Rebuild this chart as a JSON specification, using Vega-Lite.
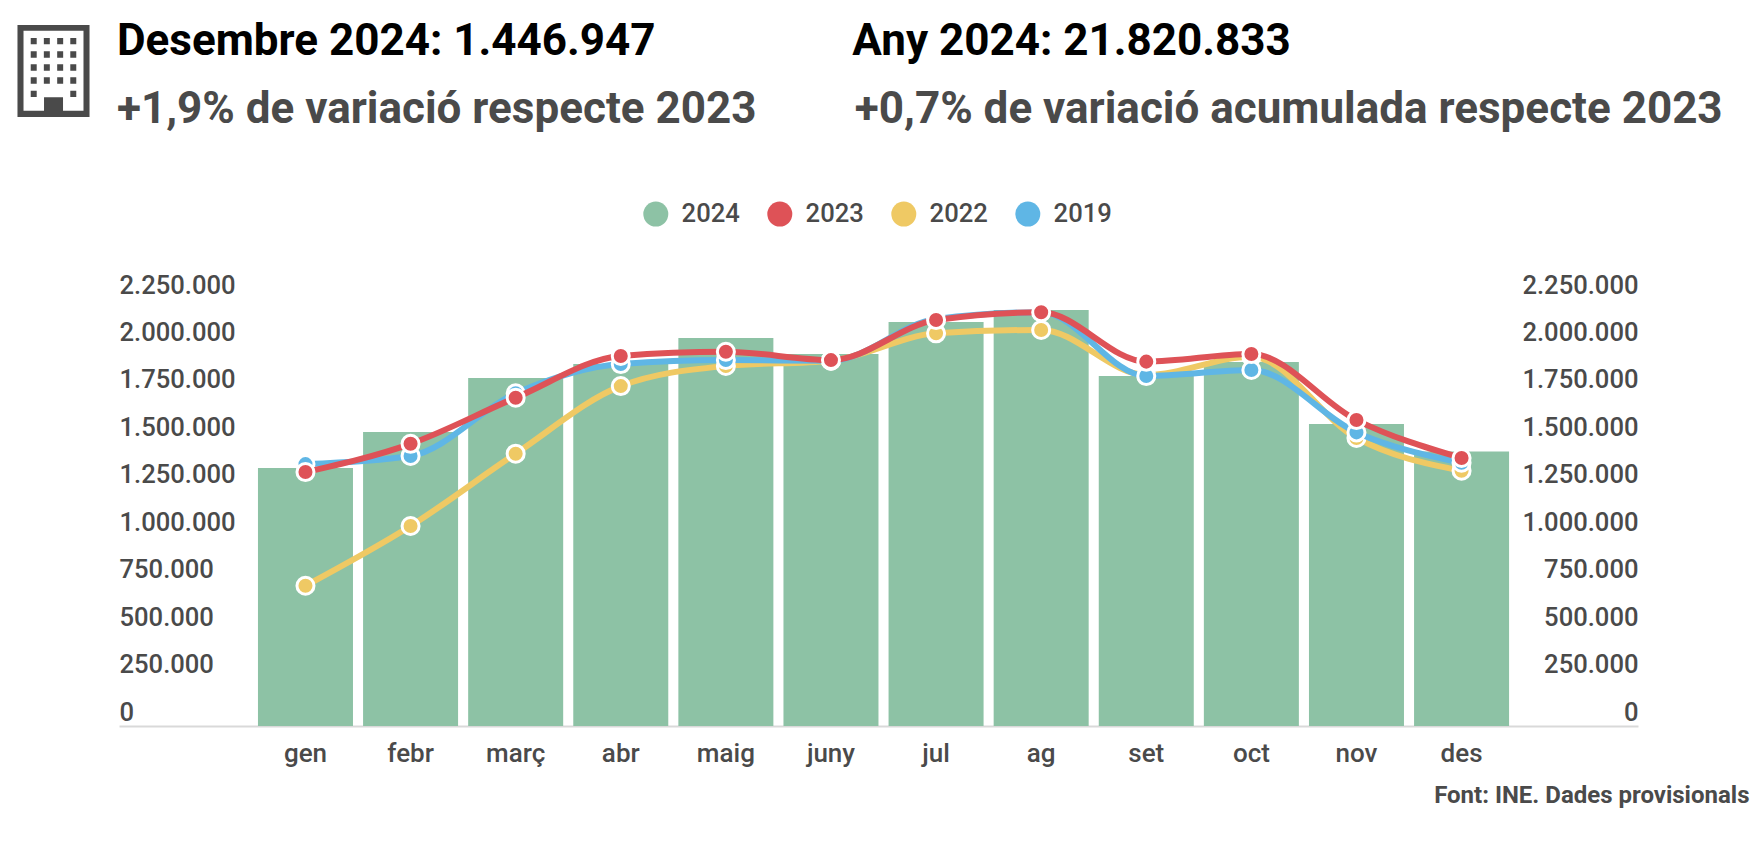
{"$schema":"https://vega.github.io/schema/vega-lite/v6.json","width":1519,"height":427,"autosize":{"type":"none"},"padding":{"left":119,"top":299,"right":115,"bottom":136},"background":"#ffffff","config":{"view":{"stroke":null},"font":"Roboto"},
"title":{"text":"Desembre 2024: 1.446.947\u00a0\u00a0\u00a0\u00a0\u00a0\u00a0\u00a0\u00a0\u00a0\u00a0\u00a0\u00a0\u00a0\u00a0\u00a0\u00a0\u00a0\u00a0Any 2024: 21.820.833","subtitle":"+1,9% de variació respecte 2023\u00a0\u00a0\u00a0\u00a0\u00a0\u00a0\u00a0\u00a0\u00a0+0,7% de variació acumulada respecte 2023","anchor":"start","frame":"group","offset":-107,"subtitlePadding":24,"font":"Roboto","fontSize":44,"fontWeight":700,"color":"#000000","subtitleFont":"Roboto","subtitleFontSize":44,"subtitleFontWeight":700,"subtitleColor":"#4a4a4a","dx":-2},
"data":{"values":[
{"mes":"gen","any":"2024","valor":1359000},{"mes":"febr","any":"2024","valor":1549000},{"mes":"març","any":"2024","valor":1834000},{"mes":"abr","any":"2024","valor":1907000},{"mes":"maig","any":"2024","valor":2044000},{"mes":"juny","any":"2024","valor":1960000},{"mes":"jul","any":"2024","valor":2129000},{"mes":"ag","any":"2024","valor":2192000},{"mes":"set","any":"2024","valor":1844000},{"mes":"oct","any":"2024","valor":1918000},{"mes":"nov","any":"2024","valor":1591000},{"mes":"des","any":"2024","valor":1446947},
{"mes":"gen","any":"2023","valor":1338000},{"mes":"febr","any":"2023","valor":1487000},{"mes":"març","any":"2023","valor":1730000},{"mes":"abr","any":"2023","valor":1950000},{"mes":"maig","any":"2023","valor":1972000},{"mes":"juny","any":"2023","valor":1928000},{"mes":"jul","any":"2023","valor":2139000},{"mes":"ag","any":"2023","valor":2180000},{"mes":"set","any":"2023","valor":1920000},{"mes":"oct","any":"2023","valor":1960000},{"mes":"nov","any":"2023","valor":1612000},{"mes":"des","any":"2023","valor":1412000},
{"mes":"gen","any":"2022","valor":739000},{"mes":"febr","any":"2022","valor":1054000},{"mes":"març","any":"2022","valor":1435000},{"mes":"abr","any":"2022","valor":1791000},{"mes":"maig","any":"2022","valor":1897000},{"mes":"juny","any":"2022","valor":1925000},{"mes":"jul","any":"2022","valor":2069000},{"mes":"ag","any":"2022","valor":2087000},{"mes":"set","any":"2022","valor":1849000},{"mes":"oct","any":"2022","valor":1946000},{"mes":"nov","any":"2022","valor":1518000},{"mes":"des","any":"2022","valor":1345000},
{"mes":"gen","any":"2019","valor":1380000},{"mes":"febr","any":"2019","valor":1423000},{"mes":"març","any":"2019","valor":1753000},{"mes":"abr","any":"2019","valor":1907000},{"mes":"maig","any":"2019","valor":1928000},{"mes":"juny","any":"2019","valor":1925000},{"mes":"jul","any":"2019","valor":2145000},{"mes":"ag","any":"2019","valor":2180000},{"mes":"set","any":"2019","valor":1844000},{"mes":"oct","any":"2019","valor":1876000},{"mes":"nov","any":"2019","valor":1547000},{"mes":"des","any":"2019","valor":1387000}
]},
"encoding":{
"x":{"field":"mes","type":"nominal","scale":{"domain":[" ","gen","febr","març","abr","maig","juny","jul","ag","set","oct","nov","des","  "],"paddingInner":0.096,"paddingOuter":0.2745,"align":0.587},"axis":{"values":["gen","febr","març","abr","maig","juny","jul","ag","set","oct","nov","des"],"title":"Font: INE. Dades provisionals","titleFont":"Roboto","titleFontSize":24,"titleFontWeight":700,"titleColor":"#4a4a4a","titleAlign":"right","titleAnchor":"end","titleX":1630,"titleY":57,"labelFont":"Roboto","labelFontSize":26,"labelFontWeight":500,"labelColor":"#4a4a4a","labelAngle":0,"labelPadding":14,"ticks":false,"domainColor":"#d9d9d9","domainWidth":2,"grid":false}},
"y":{"field":"valor","type":"quantitative","scale":{"domain":[0,2250000],"nice":false},"axis":null},
"color":{"field":"any","type":"nominal","scale":{"domain":["2024","2023","2022","2019"],"range":["#8dc2a5","#de5257","#efc964","#5fb6e5"]},"legend":null}
},
"layer":[
{"transform":[{"filter":"datum.any==='2024'"}],"mark":{"type":"bar","opacity":1},"encoding":{
"y":{"field":"valor","type":"quantitative","axis":{"title":null,"orient":"left","values":[0,250000,500000,750000,1000000,1250000,1500000,1750000,2000000,2250000],"labelExpr":"replace(format(datum.value,',.0f'),/,/g,'.')","labelAlign":"left","labelBaseline":"bottom","labelPadding":0,"labelOffset":-1,"labelFont":"Roboto","labelFontSize":25.6,"labelFontWeight":500,"labelColor":"#4a4a4a","ticks":false,"domain":false,"grid":false}},
"color":{"field":"any","type":"nominal","legend":{"title":null,"orient":"none","legendX":524,"legendY":-98,"direction":"horizontal","columns":4,"symbolType":"circle","symbolSize":625,"symbolStrokeWidth":0,"labelFont":"Roboto","labelFontSize":25.6,"labelFontWeight":500,"labelColor":"#4a4a4a","labelOffset":13,"columnPadding":27}}}},
{"transform":[{"filter":"datum.any==='2022'"}],"mark":{"type":"line","interpolate":"monotone","strokeWidth":6}},
{"transform":[{"filter":"datum.any==='2022'"}],"mark":{"type":"point","filled":true,"size":290,"opacity":1,"stroke":"#ffffff","strokeWidth":3}},
{"transform":[{"filter":"datum.any==='2019'"}],"mark":{"type":"line","interpolate":"monotone","strokeWidth":6}},
{"transform":[{"filter":"datum.any==='2019'"}],"mark":{"type":"point","filled":true,"size":290,"opacity":1,"stroke":"#ffffff","strokeWidth":3}},
{"transform":[{"filter":"datum.any==='2023'"}],"mark":{"type":"line","interpolate":"monotone","strokeWidth":6}},
{"transform":[{"filter":"datum.any==='2023'"}],"mark":{"type":"point","filled":true,"size":290,"opacity":1,"stroke":"#ffffff","strokeWidth":3},"encoding":{
"y":{"field":"valor","type":"quantitative","axis":{"title":null,"orient":"right","values":[0,250000,500000,750000,1000000,1250000,1500000,1750000,2000000,2250000],"labelExpr":"replace(format(datum.value,',.0f'),/,/g,'.')","labelAlign":"right","labelBaseline":"bottom","labelPadding":0,"labelOffset":-1,"labelFont":"Roboto","labelFontSize":25.6,"labelFontWeight":500,"labelColor":"#4a4a4a","ticks":false,"domain":false,"grid":false}}}},
{"data":{"values":[{"icona":"edifici"}]},"mark":{"type":"point","filled":true,"opacity":1,"size":8464,"color":"#4a4a4a","strokeWidth":0,"clip":false,"shape":"M-0.783 -1H0.783V1H-0.783ZM-0.652 -0.876V0.863H-0.206V0.572H0.207V0.863H0.652V-0.876ZM-0.495 -0.717h0.13v0.137h-0.13zM-0.21 -0.717h0.13v0.137h-0.13zM0.08 -0.717h0.13v0.137h-0.13zM0.365 -0.717h0.13v0.137h-0.13zM-0.495 -0.428h0.13v0.139h-0.13zM-0.21 -0.428h0.13v0.139h-0.13zM0.08 -0.428h0.13v0.139h-0.13zM0.365 -0.428h0.13v0.139h-0.13zM-0.495 -0.146h0.13v0.139h-0.13zM-0.21 -0.146h0.13v0.139h-0.13zM0.08 -0.146h0.13v0.139h-0.13zM0.365 -0.146h0.13v0.139h-0.13zM-0.495 0.137h0.13v0.139h-0.13zM-0.21 0.137h0.13v0.139h-0.13zM0.08 0.137h0.13v0.139h-0.13zM0.365 0.137h0.13v0.139h-0.13zM-0.495 0.428h0.13v0.137h-0.13zM0.365 0.428h0.13v0.137h-0.13z"},"encoding":{"x":{"value":-65.5},"y":{"value":-228},"color":{"value":"#4a4a4a"}}}
],
"resolve":{"axis":{"y":"independent"}}}
